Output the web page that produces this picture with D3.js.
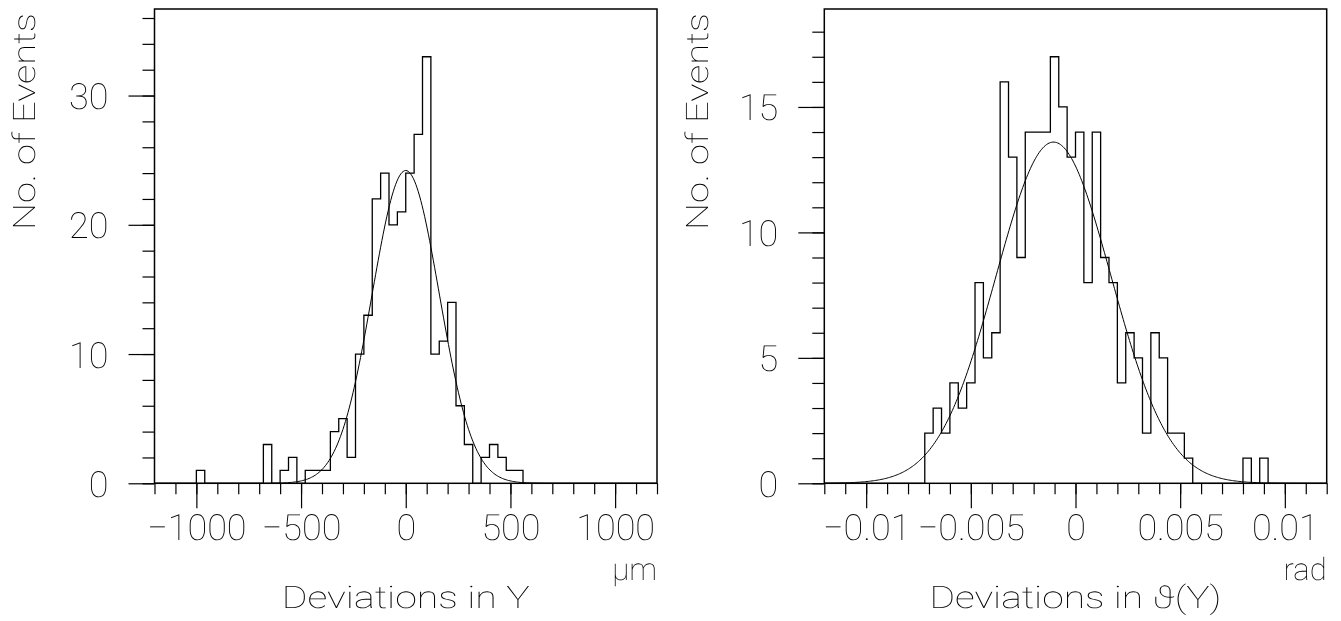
<!DOCTYPE html>
<html>
<head>
<meta charset="utf-8">
<script src="https://cdn.jsdelivr.net/npm/d3@7"></script>
<style>
  html, body { margin: 0; padding: 0; background: #fff; }
  svg { will-change: transform; transform: translateZ(0); }
  svg text { font-family: "Roboto", "Lato", "DejaVu Sans", sans-serif; font-weight: 100; fill: #000;
             text-rendering: geometricPrecision; -webkit-font-smoothing: antialiased; }
</style>
</head>
<body>
<script>
// ---- data ----
// left: deviations in Y (um), 60 bins of 40 um from -1200 to 1200
var devYRange = [-1200, 1200];
var devYCounts = [
    0, 0, 0, 0, 0, 1, 0, 0, 0, 0,
    0, 0, 0, 3, 0, 1, 2, 0, 1, 1,
    1, 4, 5, 2, 10, 13, 22, 24, 20, 21,
    24, 27, 33, 10, 11, 14, 6, 3, 0, 2,
    3, 2, 1, 1, 0, 0, 0, 0, 0, 0,
    0, 0, 0, 0, 0, 0, 0, 0, 0, 0
];
var devYFit = {amp: 24.2, mean: 0, sigma: 160};
var devYMajorTicks = [-1000, -500, 0, 500, 1000];
var devYTickLabels = ["\u22121000", "\u2212500", "0", "500", "1000"];
var devYCountTicks = [0, 10, 20, 30];

// right: deviations in theta(Y) (rad), 60 bins of 0.0004 from -0.012 to 0.012
var devThRange = [-0.012, 0.012];
var devThCounts = [
    0, 0, 0, 0, 0, 0, 0, 0, 0, 0,
    0, 0, 2, 3, 2, 4, 3, 4, 8, 5,
    6, 16, 13, 9, 14, 14, 14, 17, 15, 13,
    14, 8, 14, 9, 8, 4, 6, 5, 2, 6,
    5, 2, 2, 1, 0, 0, 0, 0, 0, 0,
    1, 0, 1, 0, 0, 0, 0, 0, 0, 0
];
var devThFit = {amp: 13.6, mean: -0.00105, sigma: 0.00275};
var devThMajorTicks = [-0.01, -0.005, 0, 0.005, 0.01];
var devThTickLabels = ["\u22120.01", "\u22120.005", "0", "0.005", "0.01"];
var devThCountTicks = [0, 5, 10, 15];

var _width = 1341;
var _height = 621;
var _top = 9;
var _bottom = 483.3;

var svg = d3.select("body").append("svg")
    .attr("width", _width)
    .attr("height", _height);

function histPanel(opt) {
    var g = svg.append("g");
    var nBins = opt.counts.length;
    var binW = (opt.range[1] - opt.range[0]) / nBins;
    var yMax = d3.max(opt.counts) * 1.112;

    var x = d3.scaleLinear().domain(opt.range).range([opt.left, opt.right]);
    var y = d3.scaleLinear().domain([0, yMax]).range([_bottom, _top]);

    // minor + major ticks, x
    var xMinor = d3.range(opt.range[0], opt.range[1] + binW / 2, opt.minorX);
    g.append("g")
        .attr("transform", "translate(0," + _bottom + ")")
        .call(d3.axisBottom(x).tickValues(xMinor).tickSize(11).tickFormat(""))
        .call(function (a) { a.select(".domain").remove(); });
    g.append("g")
        .attr("transform", "translate(0," + _bottom + ")")
        .call(d3.axisBottom(x).tickValues(opt.majorX).tickSize(25).tickPadding(6)
            .tickFormat(function (d, i) { return opt.labelsX[i]; }))
        .call(function (a) {
            a.select(".domain").remove();
            a.selectAll("text").attr("font-size", 36).attr("fill", "#000");
        });

    // y ticks
    var yMinor = d3.range(0, yMax, opt.minorY);
    g.append("g")
        .attr("transform", "translate(" + opt.left + ",0)")
        .call(d3.axisLeft(y).tickValues(yMinor).tickSize(12).tickFormat(""))
        .call(function (a) { a.select(".domain").remove(); });
    g.append("g")
        .attr("transform", "translate(" + opt.left + ",0)")
        .call(d3.axisLeft(y).tickValues(opt.majorY).tickSize(26).tickPadding(20))
        .call(function (a) {
            a.select(".domain").remove();
            a.selectAll("text").attr("font-size", 36).attr("dy", "0.36em").attr("fill", "#000");
        });
    g.selectAll(".tick line").attr("stroke", "#000").attr("stroke-width", 1.2);

    // histogram outline
    var p = "M" + x(opt.range[0]) + "," + y(0);
    opt.counts.forEach(function (c, i) {
        p += "V" + y(c) + "H" + x(opt.range[0] + (i + 1) * binW);
    });
    p += "V" + y(0);
    g.append("path")
        .attr("d", p)
        .attr("fill", "none")
        .attr("stroke", "#000")
        .attr("stroke-width", 1.3);

    // gaussian fit
    var f = opt.fit;
    var pts = d3.range(0, 401).map(function (i) {
        var xv = opt.range[0] + (opt.range[1] - opt.range[0]) * i / 400;
        return [xv, f.amp * Math.exp(-0.5 * Math.pow((xv - f.mean) / f.sigma, 2))];
    });
    g.append("path")
        .attr("d", d3.line().x(function (d) { return x(d[0]); }).y(function (d) { return y(d[1]); })(pts))
        .attr("fill", "none")
        .attr("stroke", "#000")
        .attr("stroke-width", 1);

    // frame
    g.append("rect")
        .attr("x", opt.left)
        .attr("y", _top)
        .attr("width", opt.right - opt.left)
        .attr("height", _bottom - _top)
        .attr("fill", "none")
        .attr("stroke", "#000")
        .attr("stroke-width", 1.5);

    // titles
    g.append("text")
        .attr("transform", "translate(" + opt.yTitleX + "," + 121.5 + ") rotate(-90)")
        .attr("text-anchor", "middle")
        .attr("font-size", 31)
        .attr("textLength", 217)
        .attr("lengthAdjust", "spacingAndGlyphs")
        .text("No. of Events");
    g.append("text")
        .attr("x", (opt.left + opt.right) / 2)
        .attr("y", 608)
        .attr("text-anchor", "middle")
        .attr("font-size", 31)
        .attr("textLength", opt.xTitleLen)
        .attr("lengthAdjust", "spacingAndGlyphs")
        .text(opt.xTitle);
    g.append("text")
        .attr("x", opt.right)
        .attr("y", 580)
        .attr("text-anchor", "end")
        .attr("font-size", 31)
        .text(opt.unit);
}

histPanel({
    counts: devYCounts, range: devYRange, fit: devYFit,
    left: 154.5, right: 657,
    minorX: 100, majorX: devYMajorTicks, labelsX: devYTickLabels,
    minorY: 2, majorY: devYCountTicks,
    yTitleX: 35, xTitle: "Deviations in Y", xTitleLen: 248, unit: "\u03bcm"
});

histPanel({
    counts: devThCounts, range: devThRange, fit: devThFit,
    left: 824.3, right: 1326.7,
    minorX: 0.001, majorX: devThMajorTicks, labelsX: devThTickLabels,
    minorY: 1, majorY: devThCountTicks,
    yTitleX: 708, xTitle: "Deviations in \u03d1(Y)", xTitleLen: 292, unit: "rad"
});
</script>
</body>
</html>
